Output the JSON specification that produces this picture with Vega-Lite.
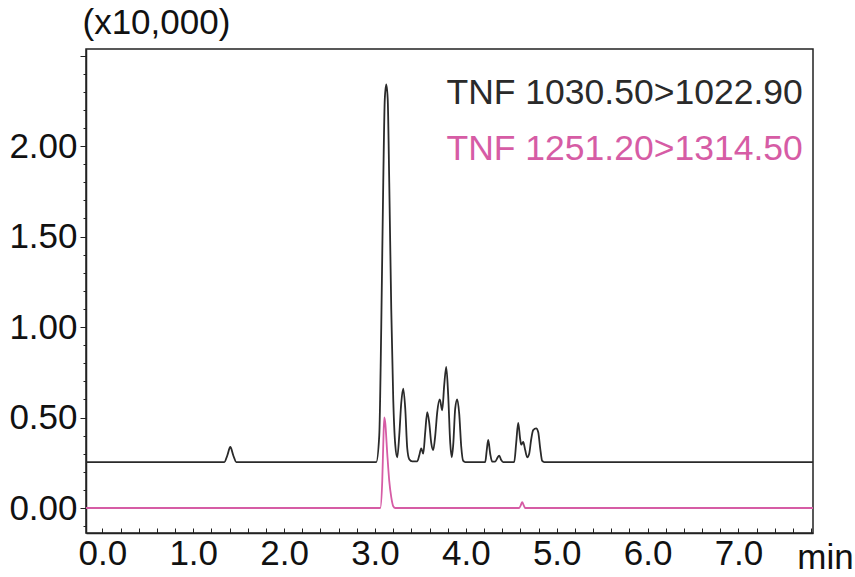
{
  "$schema": "https://vega.github.io/schema/vega-lite/v6.json",
  "width": 727,
  "height": 484,
  "autosize": {"type": "none"},
  "padding": {"left": 86, "top": 49, "right": 42, "bottom": 44},
  "background": "white",
  "config": {
    "font": "Liberation Sans",
    "view": {"stroke": "#222", "strokeWidth": 1.5},
    "axis": {"domainColor": "#222", "tickColor": "#222", "labelColor": "#111", "titleColor": "#111", "grid": false}
  },
  "data": {"values": [
    {"t": -0.18, "v": 0.254, "series": "TNF 1030.50>1022.90"},
    {"t": 1.342, "v": 0.254, "series": "TNF 1030.50>1022.90"},
    {"t": 1.375, "v": 0.29, "series": "TNF 1030.50>1022.90"},
    {"t": 1.408, "v": 0.337, "series": "TNF 1030.50>1022.90"},
    {"t": 1.441, "v": 0.29, "series": "TNF 1030.50>1022.90"},
    {"t": 1.474, "v": 0.254, "series": "TNF 1030.50>1022.90"},
    {"t": 3.014, "v": 0.254, "series": "TNF 1030.50>1022.90"},
    {"t": 3.047, "v": 0.4, "series": "TNF 1030.50>1022.90"},
    {"t": 3.069, "v": 1.0, "series": "TNF 1030.50>1022.90"},
    {"t": 3.091, "v": 1.8, "series": "TNF 1030.50>1022.90"},
    {"t": 3.108, "v": 2.26, "series": "TNF 1030.50>1022.90"},
    {"t": 3.124, "v": 2.34, "series": "TNF 1030.50>1022.90"},
    {"t": 3.14, "v": 2.26, "series": "TNF 1030.50>1022.90"},
    {"t": 3.157, "v": 1.8, "series": "TNF 1030.50>1022.90"},
    {"t": 3.179, "v": 1.1, "series": "TNF 1030.50>1022.90"},
    {"t": 3.201, "v": 0.6, "series": "TNF 1030.50>1022.90"},
    {"t": 3.223, "v": 0.35, "series": "TNF 1030.50>1022.90"},
    {"t": 3.245, "v": 0.28, "series": "TNF 1030.50>1022.90"},
    {"t": 3.267, "v": 0.4, "series": "TNF 1030.50>1022.90"},
    {"t": 3.289, "v": 0.58, "series": "TNF 1030.50>1022.90"},
    {"t": 3.311, "v": 0.66, "series": "TNF 1030.50>1022.90"},
    {"t": 3.333, "v": 0.55, "series": "TNF 1030.50>1022.90"},
    {"t": 3.355, "v": 0.33, "series": "TNF 1030.50>1022.90"},
    {"t": 3.377, "v": 0.27, "series": "TNF 1030.50>1022.90"},
    {"t": 3.41, "v": 0.258, "series": "TNF 1030.50>1022.90"},
    {"t": 3.465, "v": 0.258, "series": "TNF 1030.50>1022.90"},
    {"t": 3.487, "v": 0.29, "series": "TNF 1030.50>1022.90"},
    {"t": 3.509, "v": 0.33, "series": "TNF 1030.50>1022.90"},
    {"t": 3.531, "v": 0.3, "series": "TNF 1030.50>1022.90"},
    {"t": 3.553, "v": 0.42, "series": "TNF 1030.50>1022.90"},
    {"t": 3.575, "v": 0.53, "series": "TNF 1030.50>1022.90"},
    {"t": 3.597, "v": 0.47, "series": "TNF 1030.50>1022.90"},
    {"t": 3.619, "v": 0.36, "series": "TNF 1030.50>1022.90"},
    {"t": 3.641, "v": 0.32, "series": "TNF 1030.50>1022.90"},
    {"t": 3.663, "v": 0.4, "series": "TNF 1030.50>1022.90"},
    {"t": 3.685, "v": 0.53, "series": "TNF 1030.50>1022.90"},
    {"t": 3.713, "v": 0.6, "series": "TNF 1030.50>1022.90"},
    {"t": 3.74, "v": 0.54, "series": "TNF 1030.50>1022.90"},
    {"t": 3.762, "v": 0.68, "series": "TNF 1030.50>1022.90"},
    {"t": 3.784, "v": 0.78, "series": "TNF 1030.50>1022.90"},
    {"t": 3.806, "v": 0.62, "series": "TNF 1030.50>1022.90"},
    {"t": 3.828, "v": 0.36, "series": "TNF 1030.50>1022.90"},
    {"t": 3.845, "v": 0.28, "series": "TNF 1030.50>1022.90"},
    {"t": 3.861, "v": 0.35, "series": "TNF 1030.50>1022.90"},
    {"t": 3.883, "v": 0.55, "series": "TNF 1030.50>1022.90"},
    {"t": 3.905, "v": 0.6, "series": "TNF 1030.50>1022.90"},
    {"t": 3.927, "v": 0.52, "series": "TNF 1030.50>1022.90"},
    {"t": 3.949, "v": 0.34, "series": "TNF 1030.50>1022.90"},
    {"t": 3.971, "v": 0.26, "series": "TNF 1030.50>1022.90"},
    {"t": 3.993, "v": 0.254, "series": "TNF 1030.50>1022.90"},
    {"t": 4.213, "v": 0.254, "series": "TNF 1030.50>1022.90"},
    {"t": 4.23, "v": 0.32, "series": "TNF 1030.50>1022.90"},
    {"t": 4.246, "v": 0.376, "series": "TNF 1030.50>1022.90"},
    {"t": 4.268, "v": 0.3, "series": "TNF 1030.50>1022.90"},
    {"t": 4.29, "v": 0.256, "series": "TNF 1030.50>1022.90"},
    {"t": 4.323, "v": 0.256, "series": "TNF 1030.50>1022.90"},
    {"t": 4.345, "v": 0.275, "series": "TNF 1030.50>1022.90"},
    {"t": 4.367, "v": 0.29, "series": "TNF 1030.50>1022.90"},
    {"t": 4.389, "v": 0.265, "series": "TNF 1030.50>1022.90"},
    {"t": 4.411, "v": 0.254, "series": "TNF 1030.50>1022.90"},
    {"t": 4.532, "v": 0.254, "series": "TNF 1030.50>1022.90"},
    {"t": 4.554, "v": 0.36, "series": "TNF 1030.50>1022.90"},
    {"t": 4.576, "v": 0.47, "series": "TNF 1030.50>1022.90"},
    {"t": 4.598, "v": 0.38, "series": "TNF 1030.50>1022.90"},
    {"t": 4.609, "v": 0.35, "series": "TNF 1030.50>1022.90"},
    {"t": 4.631, "v": 0.365, "series": "TNF 1030.50>1022.90"},
    {"t": 4.653, "v": 0.32, "series": "TNF 1030.50>1022.90"},
    {"t": 4.675, "v": 0.28, "series": "TNF 1030.50>1022.90"},
    {"t": 4.697, "v": 0.3, "series": "TNF 1030.50>1022.90"},
    {"t": 4.719, "v": 0.38, "series": "TNF 1030.50>1022.90"},
    {"t": 4.741, "v": 0.43, "series": "TNF 1030.50>1022.90"},
    {"t": 4.774, "v": 0.44, "series": "TNF 1030.50>1022.90"},
    {"t": 4.796, "v": 0.42, "series": "TNF 1030.50>1022.90"},
    {"t": 4.818, "v": 0.33, "series": "TNF 1030.50>1022.90"},
    {"t": 4.84, "v": 0.26, "series": "TNF 1030.50>1022.90"},
    {"t": 4.862, "v": 0.254, "series": "TNF 1030.50>1022.90"},
    {"t": 7.82, "v": 0.254, "series": "TNF 1030.50>1022.90"},
    {"t": -0.18, "v": 0.0, "series": "TNF 1251.20>1314.50"},
    {"t": 3.058, "v": 0.0, "series": "TNF 1251.20>1314.50"},
    {"t": 3.08, "v": 0.15, "series": "TNF 1251.20>1314.50"},
    {"t": 3.091, "v": 0.35, "series": "TNF 1251.20>1314.50"},
    {"t": 3.102, "v": 0.5, "series": "TNF 1251.20>1314.50"},
    {"t": 3.113, "v": 0.47, "series": "TNF 1251.20>1314.50"},
    {"t": 3.135, "v": 0.3, "series": "TNF 1251.20>1314.50"},
    {"t": 3.157, "v": 0.15, "series": "TNF 1251.20>1314.50"},
    {"t": 3.179, "v": 0.06, "series": "TNF 1251.20>1314.50"},
    {"t": 3.201, "v": 0.01, "series": "TNF 1251.20>1314.50"},
    {"t": 3.223, "v": 0.0, "series": "TNF 1251.20>1314.50"},
    {"t": 4.587, "v": 0.0, "series": "TNF 1251.20>1314.50"},
    {"t": 4.604, "v": 0.015, "series": "TNF 1251.20>1314.50"},
    {"t": 4.62, "v": 0.033, "series": "TNF 1251.20>1314.50"},
    {"t": 4.637, "v": 0.015, "series": "TNF 1251.20>1314.50"},
    {"t": 4.653, "v": 0.0, "series": "TNF 1251.20>1314.50"},
    {"t": 7.82, "v": 0.0, "series": "TNF 1251.20>1314.50"}
  ]},
  "mark": {"type": "line", "strokeWidth": 1.8, "interpolate": "monotone", "clip": true},
  "encoding": {
    "x": {
      "field": "t", "type": "quantitative",
      "scale": {"domain": [-0.18, 7.82], "nice": false, "zero": false},
      "axis": {
        "values": [0,0.2,0.4,0.6,0.8,1,1.2,1.4,1.6,1.8,2,2.2,2.4,2.6,2.8,3,3.2,3.4,3.6,3.8,4,4.2,4.4,4.6,4.8,5,5.2,5.4,5.6,5.8,6,6.2,6.4,6.6,6.8,7,7.2,7.4,7.6,7.8],
        "labelExpr": "abs(datum.value - round(datum.value)) < 0.001 ? format(datum.value, '.1f') : ''",
        "labelFontSize": 35,
        "labelPadding": 8,
        "labelFlush": false,
        "labelOverlap": false,
        "tickSize": -5,
        "domainWidth": 1.5,
        "title": "min",
        "titleFontSize": 35,
        "titleFontWeight": "normal",
        "titleX": 739,
        "titleY": 35,
        "titleAlign": "center",
        "titleBaseline": "alphabetic"
      }
    },
    "y": {
      "field": "v", "type": "quantitative",
      "scale": {"domain": [-0.138, 2.536], "nice": false, "zero": false},
      "axis": {
        "values": [-0.1,0,0.1,0.2,0.3,0.4,0.5,0.6,0.7,0.8,0.9,1,1.1,1.2,1.3,1.4,1.5,1.6,1.7,1.8,1.9,2,2.1,2.2,2.3,2.4,2.5],
        "labelExpr": "(abs(datum.value*2 - round(datum.value*2)) < 0.001 && datum.value > -0.01 && datum.value < 2.01) ? format(datum.value, '.2f') : ''",
        "labelFontSize": 35,
        "labelPadding": 3,
        "labelFlush": false,
        "labelOverlap": false,
        "tickSize": {"condition": {"test": "abs(datum.value*2 - round(datum.value*2)) < 0.001", "value": 6}, "value": 3},
        "domainWidth": 1.5,
        "title": "(x10,000)",
        "titleAngle": 0,
        "titleFontSize": 35,
        "titleFontWeight": "normal",
        "titleX": -4,
        "titleY": -27,
        "titleAlign": "left",
        "titleBaseline": "middle"
      }
    },
    "color": {
      "field": "series", "type": "nominal",
      "scale": {"domain": ["TNF 1030.50>1022.90", "TNF 1251.20>1314.50"], "range": ["#2a2a2a", "#d65ca5"]},
      "legend": {
        "title": null,
        "orient": "none",
        "legendX": 325,
        "legendY": 26,
        "symbolSize": 0,
        "symbolStrokeWidth": 0,
        "symbolOpacity": 0,
        "labelOffset": 0,
        "labelFontSize": 35.5,
        "labelLimit": 0,
        "rowPadding": 19,
        "encode": {"labels": {"update": {"fill": {"scale": "color", "field": "value"}}}}
      }
    }
  }
}
